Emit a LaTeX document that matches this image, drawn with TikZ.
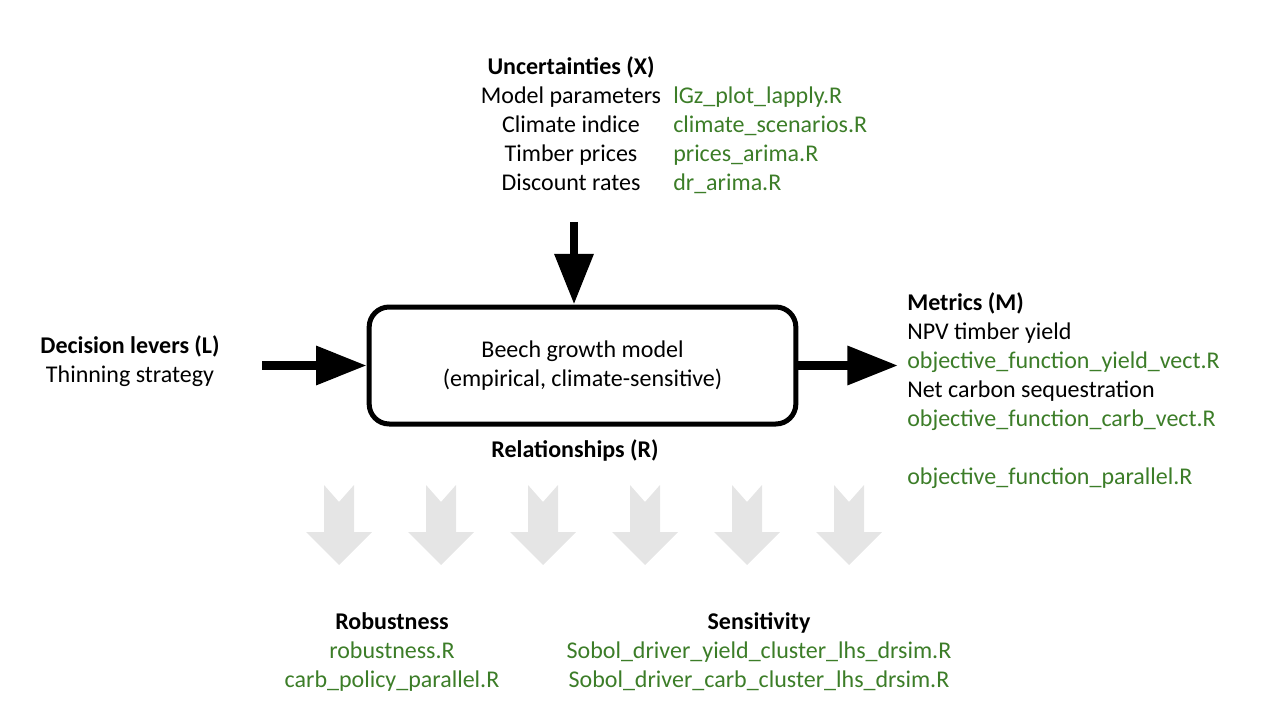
\documentclass[tikz,border=0pt]{standalone}
\usepackage{fontspec}
\setmainfont{Carlito}
\usepackage{tikz}
\usetikzlibrary{arrows.meta, positioning}
\definecolor{scriptgreen}{RGB}{60,125,40}
\definecolor{flowgray}{RGB}{229,229,229}

\begin{document}
\begin{tikzpicture}[x=0.75pt, y=-0.75pt, font=\fontsize{18}{21.8}\selectfont,
	bigarrow/.style={line width=6.5pt, -{Triangle[length=38pt, width=28pt]}},
	blocktext/.style={align=center, anchor=base, inner sep=0pt},
	filelist/.style={align=left, anchor=base west, inner sep=0pt, text=scriptgreen}]
			\useasboundingbox (0,0) rectangle (1280,720);

			\node[draw, line width=3.75pt, rounded corners=15pt, minimum width=320pt, minimum height=87.75pt, align=center] (model) at (582.5,365.5) {Beech growth model\\(empirical, climate-sensitive)};
			\node[blocktext] (relations) at (575,457.5) {\textbf{Relationships (R)}};

			\node[blocktext] (uncert) at (571,190.5) {\textbf{Uncertainties (X)}\\Model parameters\\Climate indice\\Timber prices\\Discount rates};
			\node[filelist] (uncertfiles) at (673,190.5) {lGz\_plot\_lapply.R\\climate\_scenarios.R\\prices\_arima.R\\dr\_arima.R};

			\node[blocktext] (levers) at (130,382.5) {\textbf{Decision levers (L)}\\Thinning strategy};

			\node[align=left, anchor=base west, inner sep=0pt] (metrics) at (907,484.5) {\textbf{Metrics (M)}\\NPV timber yield\\\textcolor{scriptgreen}{objective\_function\_yield\_vect.R}\\Net carbon sequestration\\\textcolor{scriptgreen}{objective\_function\_carb\_vect.R}\\[21.8pt]\textcolor{scriptgreen}{objective\_function\_parallel.R}};

			\node[blocktext] (robust) at (392,687.5) {\textbf{Robustness}\\\textcolor{scriptgreen}{robustness.R}\\\textcolor{scriptgreen}{carb\_policy\_parallel.R}};
			\node[blocktext] (sensit) at (759,687.5) {\textbf{Sensitivity}\\\textcolor{scriptgreen}{Sobol\_driver\_yield\_cluster\_lhs\_drsim.R}\\\textcolor{scriptgreen}{Sobol\_driver\_carb\_cluster\_lhs\_drsim.R}};

			\coordinate (leverin) at (262,365.5);
			\coordinate (metricout) at (898,365.5);
			\coordinate (uncertin) at (574,222);
			\draw[bigarrow] (leverin) -- (model.west);
			\draw[bigarrow] (model.east) -- (metricout);
			\draw[bigarrow] (uncertin) -- (uncertin |- model.north);

			\foreach \x in {339, 441, 543, 645, 747, 849}
			\fill[flowgray] (\x-15,485) -- (\x,502) -- (\x+15,485) -- (\x+15,532) -- (\x+33,532) -- (\x,565) -- (\x-33,532) -- (\x-15,532) -- cycle;
\end{tikzpicture}
\end{document}
